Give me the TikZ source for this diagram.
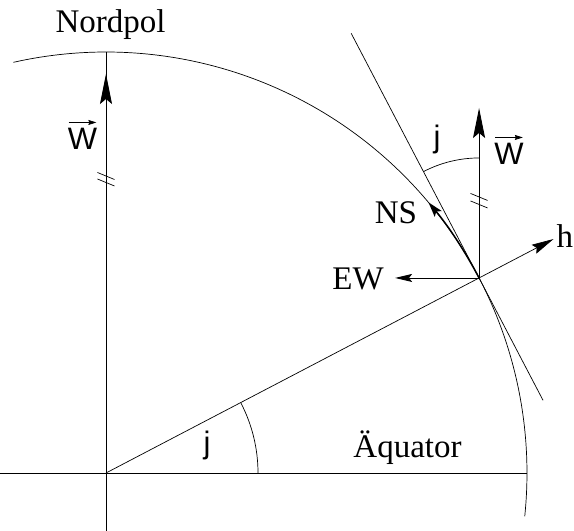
\documentclass[tikz,border=0pt]{standalone}
\usepackage{fontspec}
\setmainfont{Liberation Serif}
\newfontfamily\sflabfont{Liberation Sans}
\usetikzlibrary{arrows.meta,calc}
\begin{document}
\begin{tikzpicture}[x=1pt,y=1pt,
  thinline/.style={line width=0.7pt},
  vecline/.style={line width=0.9pt},
  lab/.style={font=\fontsize{33}{40}\selectfont, inner sep=0pt},
  sflab/.style={font=\sflabfont\fontsize{31}{37}\selectfont, inner sep=0pt},
  bighead/.style={-{Stealth[length=30pt,width=12pt,inset=5pt]}},
  hhead/.style={-{Stealth[length=22pt,width=10pt,inset=3pt]}},
  ewhead/.style={-{Stealth[length=17pt,width=8pt,inset=3pt]}},
  nshead/.style={-{Stealth[length=15pt,width=9pt,inset=3pt]}},
  smallhead/.style={-{Stealth[length=8pt,width=5pt,inset=1pt]}},
]
\useasboundingbox (0,0) rectangle (574,531);
\def\R{421}
\def\ph{27.6}
\coordinate (O) at (106,58);
\coordinate (P) at ($(O)+(\ph:\R)$);
\coordinate (Eq) at (527,58);
\coordinate (Wst) at (0,58);
\coordinate (Bot) at (106,0);
\coordinate (Top) at (106,479);
\coordinate (Wtip) at (106,457);
\coordinate (Htip) at ($(O)+(\ph:505)$);
\coordinate (T1) at ($(P)+(90+\ph:276)$);
\coordinate (T2) at ($(P)+(\ph-90:138)$);
\coordinate (Vtip) at ($(P)+(0,170)$);
\coordinate (EWtip) at ($(P)+(-84,0)$);
\coordinate (A1) at ($(O)+(152,0)$);
\coordinate (A2) at ($(P)+(0,120)$);
\coordinate (S) at ($(O)+(102.7:\R)$);
\coordinate (K1) at (106,355);
\coordinate (K2) at (106,348.5);
\coordinate (K3) at ($(P)+(0,81)$);
\coordinate (K4) at ($(P)+(0,73.5)$);

% circle arc
\draw[thinline] (S) arc[start angle=102.7,end angle=-5.9,radius=\R];
% axes
\draw[thinline] (Wst) -- (Eq);
\draw[thinline] (Bot) -- (Top);
\draw[vecline,bighead] (O) -- (Wtip);
% radius and h
\draw[thinline] (O) -- (P);
\draw[thinline,hhead] (P) -- (Htip);
% tangent
\draw[thinline] (T1) -- (T2);
% local vectors
\draw[vecline,bighead] (P) -- (Vtip);
\draw[vecline,ewhead] (P) -- (EWtip);
\draw[line width=1.5pt,nshead] (P) arc[start angle=\ph,end angle=40,radius=\R];
% angle arcs
\draw[thinline] (A1) arc[start angle=0,end angle=\ph,radius=152];
\draw[thinline] (A2) arc[start angle=90,end angle=90+\ph,radius=120];
% ticks
\foreach \k in {K1,K2,K3,K4}
  \draw[thinline] ($(\k)+(-8.5,3.5)$) -- ($(\k)+(8.5,-3.5)$);

% labels
\node[lab,anchor=base] (nord) at (110.5,498) {Nordpol};
\node[lab,anchor=base] (aeq) at (407.5,73.3) {Äquator};
\node[lab,anchor=base] (ew) at (358,241) {EW};
\node[lab,anchor=base] (ns) at (396,307) {NS};
\node[lab,anchor=base west] (h) at (556.5,283) {h};
\node[sflab,anchor=base] (wl) at (82.5,381) {W};
\node[sflab,anchor=base] (wr) at (509,366) {W};
\draw[thinline,smallhead] ([xshift=1pt,yshift=6pt]wl.north west) -- ([xshift=-1pt,yshift=6pt]wl.north east);
\draw[thinline,smallhead] ([xshift=1pt,yshift=6pt]wr.north west) -- ([xshift=-1pt,yshift=6pt]wr.north east);
\node[sflab,anchor=base] (jt) at (437,383.5) {j};
\node[sflab,anchor=base] (jb) at (207,77.5) {j};
\end{tikzpicture}
\end{document}
